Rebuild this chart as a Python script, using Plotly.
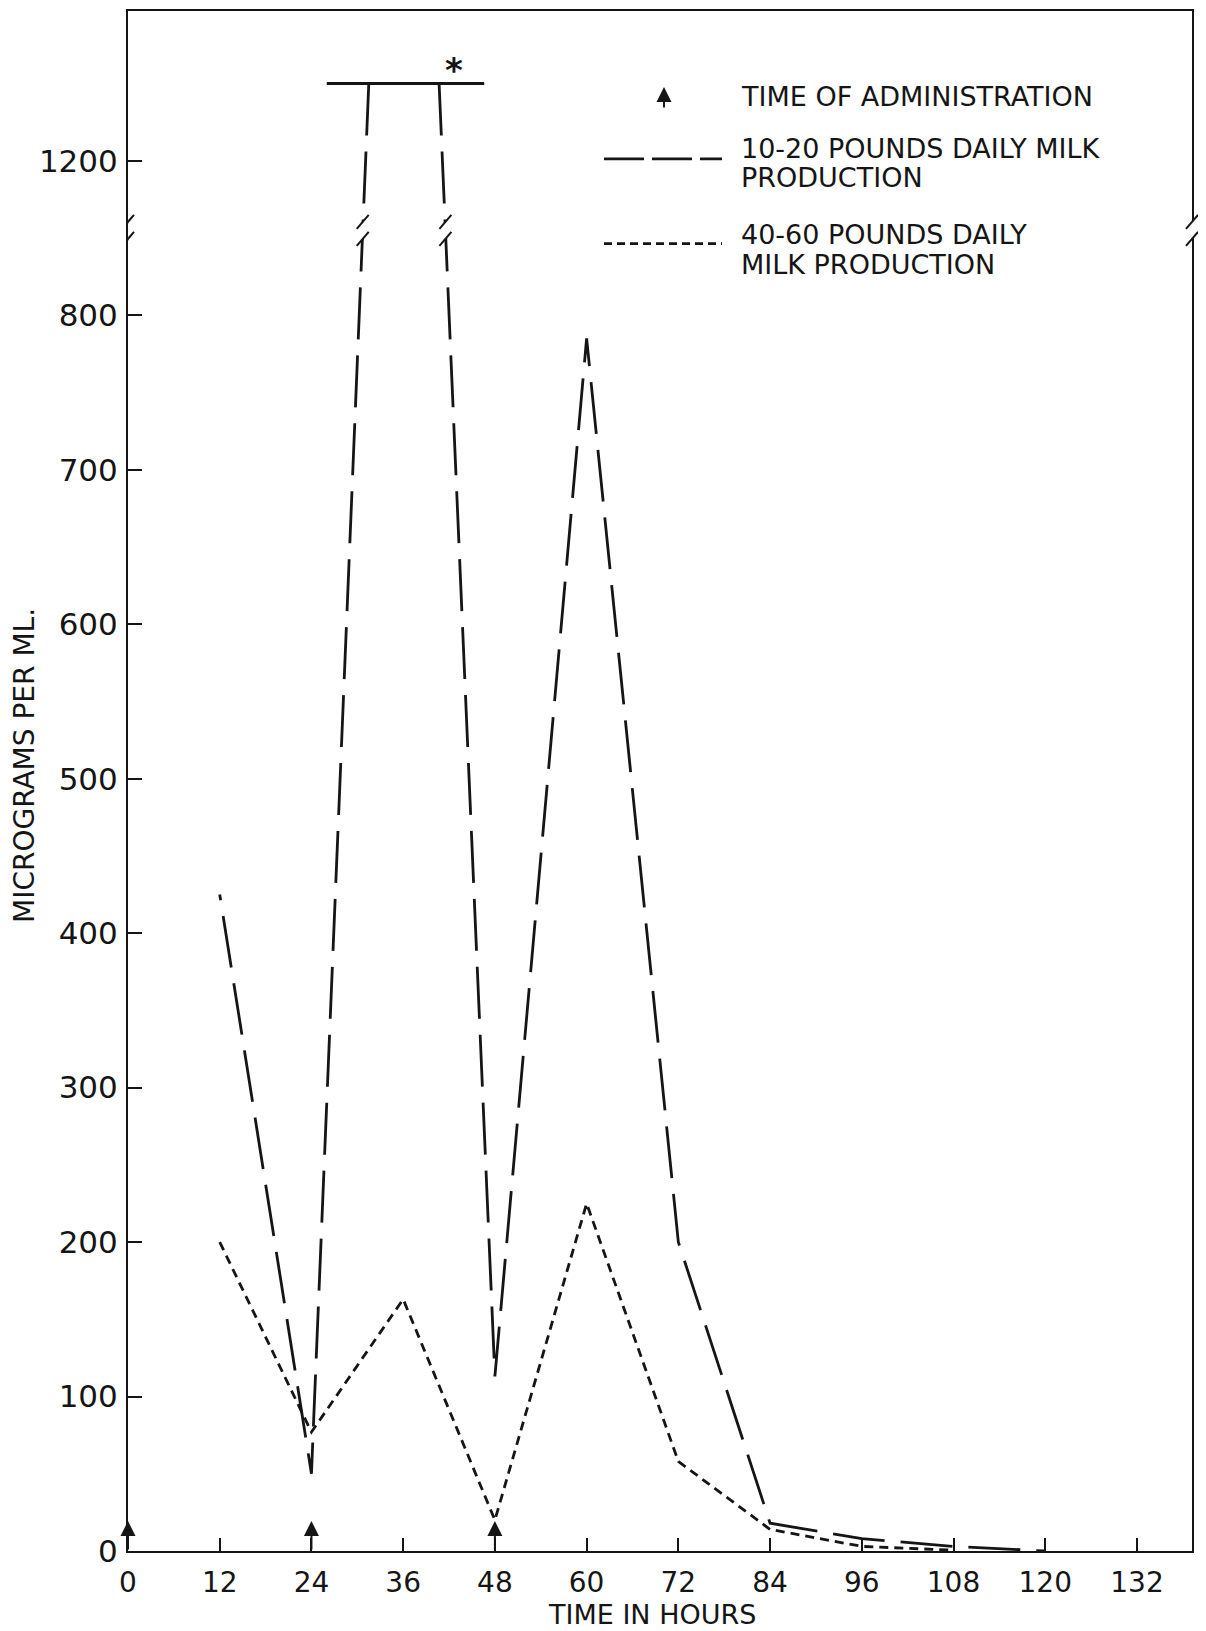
import plotly.graph_objects as go

# ---------------- data ----------------
hour_ticks = list(range(0, 133, 12))
value_ticks = [0, 100, 200, 300, 400, 500, 600, 700, 800, 1200]
admin_hours = [0, 24, 48]

# 10-20 pounds daily milk production (dashed); goes off scale around 36 h.
# First run is listed from the off-scale point downwards so the dash pattern
# starts at the top bar, like the original drawing.
low_prod_hours = [31.5, 24, 12, None, 40.7, 48, 60, 72, 84, 96, 108, 120]
low_prod_values = [1250, 50, 425, None, 1250, 113, 785, 200, 18, 8, 3, 0]

# 40-60 pounds daily milk production (dotted)
high_prod_hours = [12, 24, 36, 48, 60, 72, 84, 96, 108]
high_prod_values = [200, 77, 163, 20, 225, 58, 14, 3, 0.5]

# off-scale bar with asterisk
offscale_hours = [26.0, 46.6]
offscale_value = 1250
asterisk_hour = 42.6

# broken value axis
BREAK_LO = 855
BREAK_HI = 1155
GAP = BREAK_HI - BREAK_LO
Y_TOP = 1297
X_MAX = 139.2

FONT = "DejaVu Sans"
INK = "#151515"

# the page body adds an 8 px margin around the figure
W, H = 1206 - 8, 1631 - 8
PLOT_L, PLOT_R, PLOT_T, PLOT_B = 128, 1192, 9, 1551   # page pixels


def disp(v):
    if v is None:
        return None
    return v if v <= BREAK_LO else v - GAP


def px_to_paper_y(py):
    return (PLOT_B - py) / (PLOT_B - PLOT_T)


def px_to_paper_x(px):
    return (px - PLOT_L) / (PLOT_R - PLOT_L)


fig = go.Figure()

fig.add_trace(go.Scatter(
    x=low_prod_hours, y=[disp(v) for v in low_prod_values],
    mode="lines", line=dict(color=INK, width=2.8, dash="52px,16px"),
    name="10-20 POUNDS DAILY MILK PRODUCTION", showlegend=False,
    connectgaps=False,
))
fig.add_trace(go.Scatter(
    x=high_prod_hours, y=[disp(v) for v in high_prod_values],
    mode="lines", line=dict(color=INK, width=2.8, dash="9px,6px"),
    name="40-60 POUNDS DAILY MILK PRODUCTION", showlegend=False,
))
fig.add_trace(go.Scatter(
    x=offscale_hours, y=[disp(offscale_value)] * 2,
    mode="lines", line=dict(color=INK, width=3), showlegend=False,
    hoverinfo="skip",
))

annotations = []
shapes = []

# administration arrows on the time axis
for t in admin_hours:
    annotations.append(dict(
        x=t, y=0, xref="x", yref="y", text="", showarrow=True,
        ax=0, ay=30, yshift=30, arrowhead=2, arrowsize=1.5, arrowwidth=2,
        arrowcolor=INK, standoff=0,
    ))

# asterisk
annotations.append(dict(
    x=asterisk_hour, y=disp(offscale_value), xref="x", yref="y", text="*",
    showarrow=False, yanchor="bottom", xanchor="center", yshift=-8,
    font=dict(family=FONT, size=34, color=INK, weight="bold"),
))

# legend (drawn by hand like the original)
annotations.append(dict(
    x=px_to_paper_x(664), y=px_to_paper_y(85), xref="paper", yref="paper",
    text="", showarrow=True, ax=0, ay=22, arrowhead=2, arrowsize=1.5,
    arrowwidth=2, arrowcolor=INK, standoff=0,
))
legend_lines = [
    ("TIME OF ADMINISTRATION", 95),
    ("10-20 POUNDS DAILY MILK", 147),
    ("PRODUCTION", 176),
    ("40-60 POUNDS DAILY", 233),
    ("MILK PRODUCTION", 263),
]
for txt, py in legend_lines:
    annotations.append(dict(
        x=px_to_paper_x(739), y=px_to_paper_y(py), xref="paper", yref="paper",
        text=txt, showarrow=False, xanchor="left", yanchor="middle",
        font=dict(family=FONT, size=27, color=INK),
    ))
shapes.append(dict(type="line", xref="paper", yref="paper",
                   x0=px_to_paper_x(604), x1=px_to_paper_x(722),
                   y0=px_to_paper_y(157), y1=px_to_paper_y(157),
                   line=dict(color=INK, width=2.8, dash="40px,8px")))
shapes.append(dict(type="line", xref="paper", yref="paper",
                   x0=px_to_paper_x(604), x1=px_to_paper_x(722),
                   y0=px_to_paper_y(242), y1=px_to_paper_y(242),
                   line=dict(color=INK, width=2.8, dash="8px,5px")))

# axis titles
annotations.append(dict(
    x=px_to_paper_x(24), y=px_to_paper_y(765), xref="paper", yref="paper",
    text="MICROGRAMS PER ML.", textangle=-90, showarrow=False,
    xanchor="center", yanchor="middle",
    font=dict(family=FONT, size=28, color=INK),
))
annotations.append(dict(
    x=px_to_paper_x(652), y=px_to_paper_y(1615), xref="paper", yref="paper",
    text="TIME IN HOURS", showarrow=False, xanchor="center", yanchor="middle",
    font=dict(family=FONT, size=27, color=INK),
))


# break marks: left axis, right border, and the two dashed lines
def crossing_hour(h0, v0, h1, v1, level):
    d0, d1 = disp(v0), disp(v1)
    return h0 + (h1 - h0) * (level - d0) / (d1 - d0)


def add_break(xanchor, xref):
    common = dict(xref=xref, yref="y", xsizemode="pixel", ysizemode="pixel",
                  xanchor=xanchor, yanchor=BREAK_LO, layer="above")
    shapes.append(dict(type="path", path="M -6,-15.5 L 6,-1.5 L 6,15.5 L -6,1.5 Z",
                       fillcolor="white", line=dict(width=0), **common))
    shapes.append(dict(type="line", x0=-6, y0=1.5, x1=6, y1=15.5,
                       line=dict(color=INK, width=2), **common))
    shapes.append(dict(type="line", x0=-6, y0=-15.5, x1=6, y1=-1.5,
                       line=dict(color=INK, width=2), **common))


add_break(0, "x")
add_break(1, "paper")
add_break(crossing_hour(low_prod_hours[1], low_prod_values[1],
                        low_prod_hours[0], low_prod_values[0], BREAK_LO), "x")
add_break(crossing_hour(low_prod_hours[4], low_prod_values[4],
                        low_prod_hours[5], low_prod_values[5], BREAK_LO), "x")

fig.update_layout(
    width=W, height=H,
    margin=dict(l=PLOT_L - 8, r=W - (PLOT_R - 8), t=PLOT_T - 8, b=H - (PLOT_B - 8)),
    paper_bgcolor="white", plot_bgcolor="white",
    font=dict(family=FONT, color=INK),
    annotations=annotations, shapes=shapes, showlegend=False,
)
fig.update_xaxes(
    range=[0, X_MAX], tickvals=hour_ticks, ticktext=[str(h) for h in hour_ticks],
    ticks="inside", ticklen=13, tickwidth=2, tickcolor=INK,
    showline=True, linewidth=2, linecolor=INK, mirror=True,
    showgrid=False, zeroline=False, ticklabelstandoff=5,
    tickfont=dict(family=FONT, size=28, color=INK),
)
fig.update_yaxes(
    range=[0, disp(Y_TOP)], tickvals=[disp(v) for v in value_ticks],
    ticktext=[str(v) for v in value_ticks],
    ticks="inside", ticklen=14, tickwidth=2, tickcolor=INK,
    showline=True, linewidth=2, linecolor=INK, mirror=True,
    showgrid=False, zeroline=False, ticklabelstandoff=2,
    tickfont=dict(family=FONT, size=31, color=INK),
)

fig.write_html("out.html")
